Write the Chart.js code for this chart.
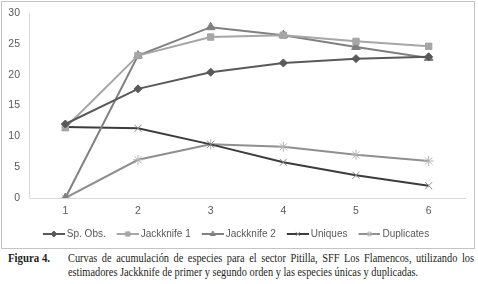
<!DOCTYPE html>
<html lang="es">

<head>
    <meta charset="UTF-8">
    <title>Figura 4</title>
    <script src="https://cdn.jsdelivr.net/npm/chart.js"></script>
    <style>
        body { margin: 0; background: #fff; width: 478px; height: 284px; position: relative; overflow: hidden; }
        #box { position: absolute; left: 1px; top: 1px; width: 472px; height: 246px; border: 1px solid #c4c4c4; }
        #caption { position: absolute; left: 8px; top: 251px; width: 466px; font-family: "Liberation Serif", serif; font-size: 12px; line-height: 14px; color: #231f20; }
        #caption b { position: absolute; left: 0; top: 0; transform: scaleX(0.9); transform-origin: left; }
        #caption .l1 { position: absolute; left: 60px; top: 0; width: 471px; text-align: justify; text-align-last: justify; white-space: nowrap; transform: scaleX(0.862); transform-origin: left; }
        #caption .l2 { position: absolute; left: 60px; top: 14px; white-space: nowrap; transform: scaleX(0.862); transform-origin: left; }
    </style>
</head>

<body>
    <div id="box"><canvas id="chart" width="472" height="246"></canvas></div>
    <div id="caption">
        <b>Figura 4.</b>
        <div class="l1">Curvas de acumulación de especies para el sector Pitilla, SFF Los Flamencos, utilizando los</div>
        <div class="l2">estimadores Jackknife de primer y segundo orden y las especies únicas y duplicadas.</div>
    </div>

    <script>
        const labels = ['1', '2', '3', '4', '5', '6'];
        const seriesNames = ['Sp. Obs.', 'Jackknife 1', 'Jackknife 2', 'Uniques', 'Duplicates'];
        const spObs = [12.0, 17.7, 20.4, 21.9, 22.6, 22.9];
        const jack1 = [11.4, 23.1, 26.1, 26.4, 25.4, 24.6];
        const jack2 = [0, 23.1, 27.7, 26.4, 24.5, 22.7];
        const uniques = [11.5, 11.3, 8.7, 5.8, 3.7, 2.0];
        const duplicates = [0, 6.2, 8.7, 8.3, 7.0, 6.0];

        const styles = [
            { line: '#595959', mark: '#595959', shape: 'rectRot', r: 4 },
            { line: '#a6a6a6', mark: '#a6a6a6', shape: 'rect', r: 4.5 },
            { line: '#808080', mark: '#808080', shape: 'triangle', r: 5 },
            { line: '#3c3c3c', mark: '#8a8a8a', shape: 'crossRot', r: 5 },
            { line: '#8f8f8f', mark: '#b4b4b4', shape: 'star', r: 5 }
        ];

        // small line + marker icon for the legend
        function makeIcon(s) {
            const c = document.createElement('canvas');
            c.width = 30;
            c.height = 12;
            const g = c.getContext('2d');
            g.strokeStyle = s.line;
            g.lineWidth = 2;
            g.beginPath();
            g.moveTo(8, 6);
            g.lineTo(30, 6);
            g.stroke();
            g.fillStyle = s.mark;
            g.strokeStyle = s.mark;
            g.lineWidth = 1;
            Chart.helpers.drawPoint(g, { pointStyle: s.shape, radius: 3, rotation: 0, borderWidth: 1 }, 19, 6);
            return c;
        }
        const icons = styles.map(makeIcon);

        const seriesData = [spObs, jack1, jack2, uniques, duplicates];
        const datasets = seriesData.map((d, i) => ({
            label: seriesNames[i],
            data: d,
            borderColor: styles[i].line,
            backgroundColor: styles[i].mark,
            pointBorderColor: styles[i].mark,
            pointBackgroundColor: styles[i].mark,
            pointStyle: styles[i].shape,
            pointRadius: styles[i].r,
            pointBorderWidth: 1,
            borderWidth: 2,
            tension: 0
        }));

        const ctx = document.getElementById('chart').getContext('2d');
        new Chart(ctx, {
            type: 'line',
            data: { labels, datasets },
            options: {
                responsive: false,
                animation: false,
                events: [],
                layout: { padding: { left: 0, right: 9, top: 11, bottom: -1 } },
                plugins: {
                    tooltip: { enabled: false },
                    legend: {
                        position: 'bottom',
                        labels: {
                            usePointStyle: true,
                            pointStyleWidth: 24,
                            padding: 6,
                            color: '#595959',
                            font: { family: 'Liberation Sans', size: 10 },
                            generateLabels: (chart) => Chart.defaults.plugins.legend.labels.generateLabels(chart)
                                .map((l, i) => { l.pointStyle = icons[i]; return l; })
                        }
                    }
                },
                scales: {
                    x: {
                        offset: true,
                        grid: { display: false, drawTicks: false },
                        border: { display: true, color: '#d9d9d9', width: 1 },
                        ticks: { color: '#595959', padding: 7, font: { family: 'Liberation Sans', size: 10.5 } },
                        afterFit: (s) => { s.height = 25; s.paddingLeft = 0; s.paddingRight = 0; }
                    },
                    y: {
                        min: 0,
                        max: 30,
                        grid: { display: false, drawTicks: false },
                        border: { display: true, color: '#d9d9d9', width: 1 },
                        ticks: { stepSize: 5, color: '#595959', padding: 9, font: { family: 'Liberation Sans', size: 10.5 } },
                        afterFit: (s) => { s.width = 27; s.paddingTop = 0; s.paddingBottom = 0; }
                    }
                }
            }
        });
    </script>
</body>

</html>
